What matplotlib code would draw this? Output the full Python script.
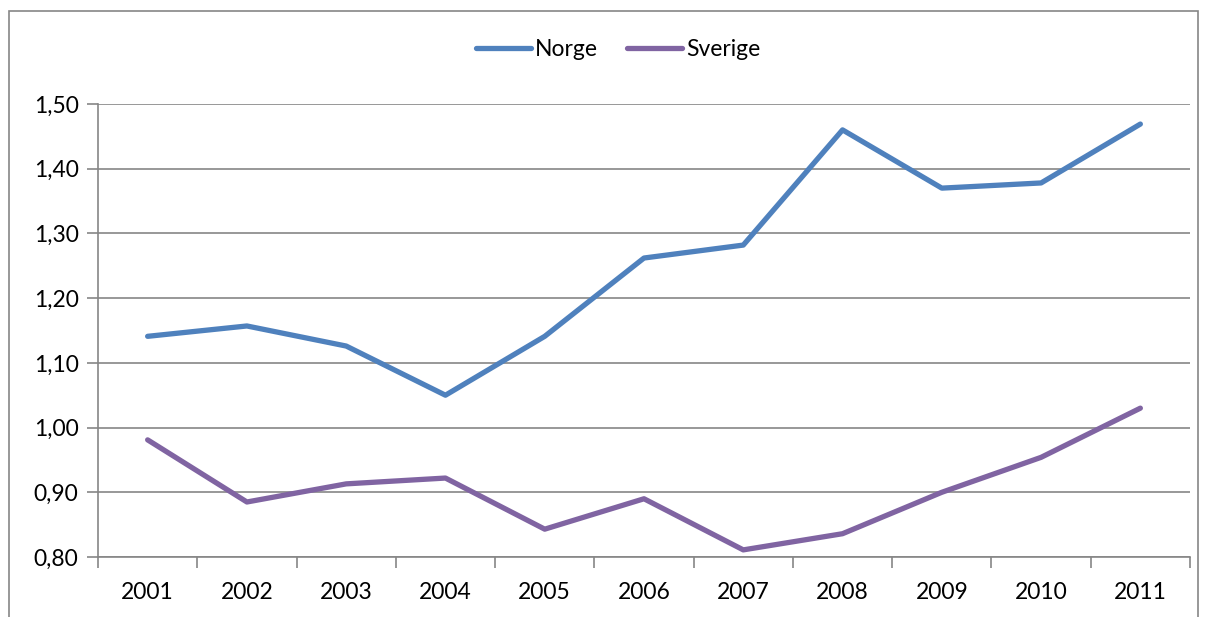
import matplotlib
matplotlib.use('Agg')
import matplotlib.pyplot as plt
from matplotlib.patches import Rectangle
import numpy as np

years = ['2001', '2002', '2003', '2004', '2005', '2006', '2007', '2008', '2009', '2010', '2011']
norge = [1.141, 1.157, 1.126, 1.050, 1.141, 1.262, 1.282, 1.460, 1.370, 1.378, 1.469]
sverige = [0.981, 0.885, 0.913, 0.922, 0.843, 0.890, 0.811, 0.836, 0.900, 0.954, 1.030]
yticks = [0.80, 0.90, 1.00, 1.10, 1.20, 1.30, 1.40, 1.50]

plt.rcParams['font.family'] = ['Lato', 'DejaVu Sans']
W, H = 1208, 617
fig = plt.figure(figsize=(W / 100, H / 100), dpi=100)
ax = fig.add_axes([98 / W, 1 - 557 / H, (1190 - 98) / W, (557 - 104) / H])

grey = '#868686'
fs = 16.5
x = np.arange(len(years))
ax.plot(x, norge, color='#4F81BD', lw=3.8, label='Norge', solid_capstyle='round')
ax.plot(x, sverige, color='#8064A2', lw=3.8, label='Sverige', solid_capstyle='round')

ax.set_xlim(-0.5, len(years) - 0.5)
ax.set_ylim(0.80, 1.50)
ax.set_yticks(yticks)
ax.set_yticklabels([f'{v:.2f}'.replace('.', ',') for v in yticks])
ax.yaxis.grid(True, color=grey, lw=1.2)
ax.set_axisbelow(True)

ax.set_xticks(x)
ax.set_xticklabels(years)
ax.set_xticks(np.arange(-0.5, len(years)), minor=True)
ax.tick_params(axis='x', which='major', length=0, pad=18, labelsize=fs)
ax.tick_params(axis='x', which='minor', length=8, color=grey, width=1.2)
ax.tick_params(axis='y', length=8, color=grey, width=1.2, pad=6, labelsize=fs)

for side in ['top', 'right']:
    ax.spines[side].set_visible(False)
for side in ['left', 'bottom']:
    ax.spines[side].set_color(grey)
    ax.spines[side].set_linewidth(1.2)

fig.legend(loc='center', bbox_to_anchor=(618 / W, 1 - 50 / H), ncol=2, frameon=False,
           fontsize=fs, handlelength=2.4, handletextpad=0.15, columnspacing=1.3)

fig.patches.append(Rectangle((9 / W, -0.1), (1198 - 9) / W, 1.1 - 11 / H,
                             transform=fig.transFigure, fill=False, edgecolor=grey, lw=1.2))

fig.savefig('out.png', dpi=100)
